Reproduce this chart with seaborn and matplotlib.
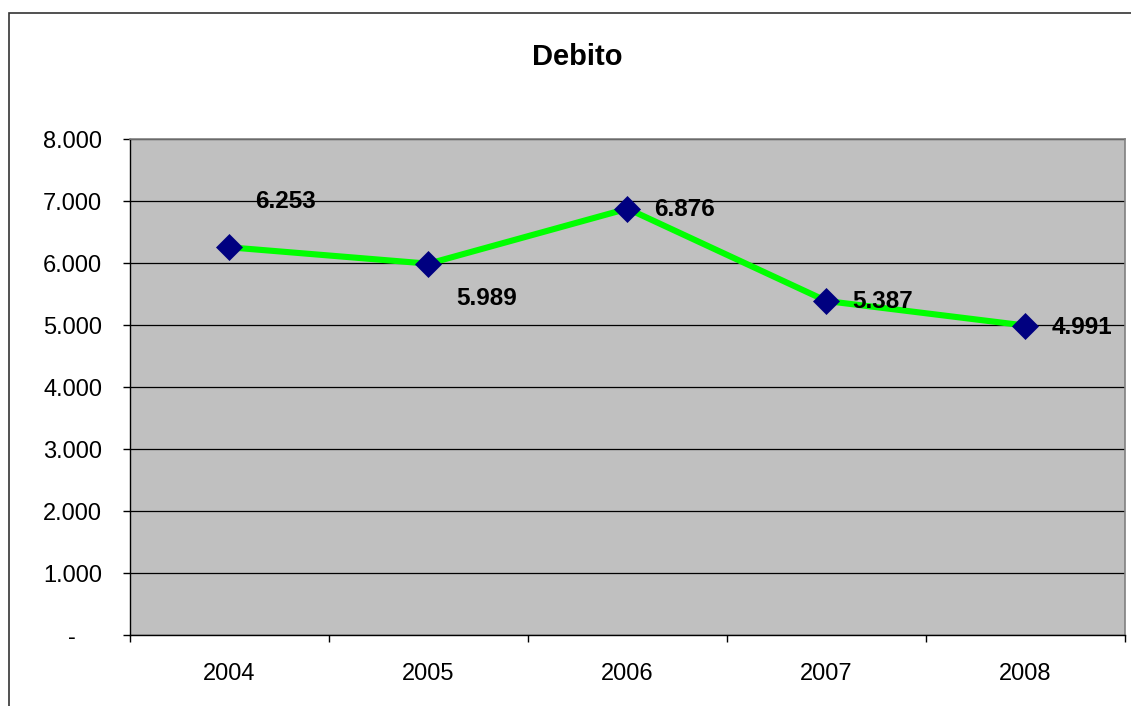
import matplotlib
matplotlib.use("Agg")
import matplotlib.pyplot as plt
import matplotlib.ticker as mticker
from matplotlib.patches import Rectangle
import seaborn as sns
import pandas as pd

# ---- data ----
years = [2004, 2005, 2006, 2007, 2008]
debito = [6253, 5989, 6876, 5387, 4991]
value_labels = ["6.253", "5.989", "6.876", "5.387", "4.991"]
title = "Debito"

df = pd.DataFrame({"anno": years, "debito": debito})

sns.set_theme(style="white")
plt.rcParams["font.family"] = ["Liberation Sans", "DejaVu Sans"]

W, H = 1131, 706
fig = plt.figure(figsize=(W / 100, H / 100), dpi=100)

# outer chart border (extends beyond the image on right/bottom)
fig.patches.append(Rectangle((9 / W, -0.2), 1.3, 1 - 13 / H + 0.2,
                             transform=fig.transFigure, fill=False,
                             edgecolor="#333333", linewidth=1.2, zorder=0))

ax = fig.add_axes([130 / W, 1 - 635 / H, (1125 - 130) / W, (635 - 139) / H])
ax.set_facecolor("#C0C0C0")

sns.lineplot(data=df, x="anno", y="debito", ax=ax, color="#00FF00",
             linewidth=4.4, marker="D", markersize=13,
             markerfacecolor="#000080", markeredgecolor="#000080",
             markeredgewidth=0.5, zorder=3)

ax.set_xlim(years[0] - 0.5, years[-1] + 0.5)
ax.set_ylim(0, 8000)

# gridlines
ax.yaxis.set_major_locator(mticker.MultipleLocator(1000))
ax.grid(axis="y", color="black", linewidth=0.9)
ax.grid(axis="x", visible=False)
ax.set_axisbelow(True)

def yfmt(v, pos):
    if abs(v) < 1e-9:
        return "-    "
    return f"{int(round(v)):,}".replace(",", ".")
ax.yaxis.set_major_formatter(mticker.FuncFormatter(yfmt))

ax.set_xticks(years)
ax.set_xticklabels([str(y) for y in years])
ax.set_xticks([y + 0.5 for y in [years[0] - 1] + years], minor=True)
ax.tick_params(axis="x", which="major", length=0, pad=20, labelsize=17,
               labelcolor="black")
ax.tick_params(axis="x", which="minor", length=5, width=1, color="black",
               direction="out", bottom=True)
ax.tick_params(axis="y", which="major", length=5, width=1, color="black",
               direction="out", left=True, pad=15, labelsize=17,
               labelcolor="black")

for side in ["top", "right"]:
    ax.spines[side].set_color("#808080")
    ax.spines[side].set_linewidth(1.2)
for side in ["left", "bottom"]:
    ax.spines[side].set_color("black")
    ax.spines[side].set_linewidth(1.0)

ax.set_xlabel("")
ax.set_ylabel("")

# data labels (offsets in pixels)
label_dx = [26, 28, 27, 26, 26]
label_dy = [46, -35, -1, 0, -2]
for x, y, t, dx, dy in zip(years, debito, value_labels, label_dx, label_dy):
    ax.annotate(t, (x, y), xytext=(dx, dy), textcoords="offset pixels",
                ha="left", va="center", fontsize=17.5, fontweight="bold",
                color="black", zorder=4, annotation_clip=False)

fig.text(577 / W, 1 - 57 / H, title, ha="center", va="center",
         fontsize=21, fontweight="bold", color="black")

fig.savefig("out.png", dpi=100)
